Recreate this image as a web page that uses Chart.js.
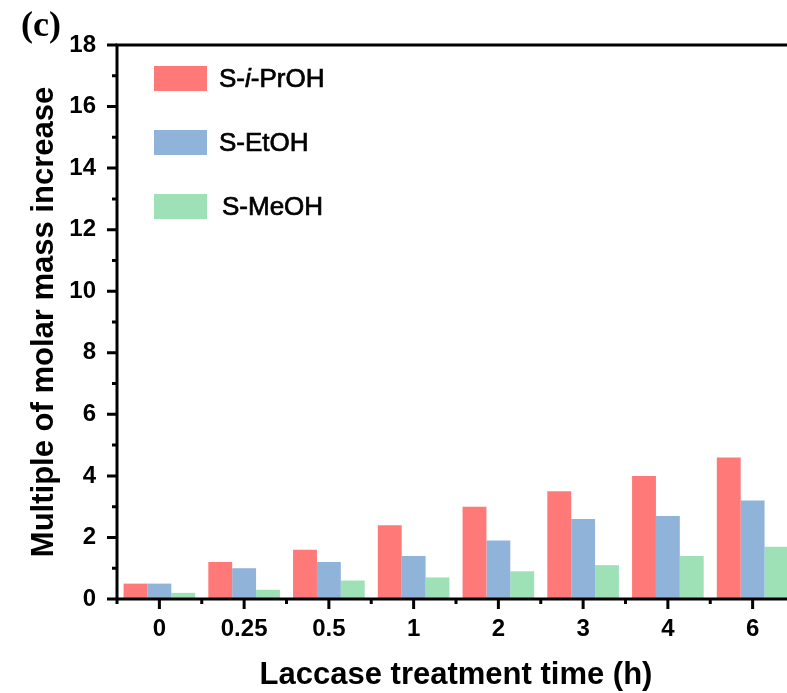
<!DOCTYPE html>
<html>
<head>
<meta charset="utf-8">
<script src="https://cdn.jsdelivr.net/npm/chart.js@4/dist/chart.umd.min.js"></script>
<style>
  html, body { margin: 0; padding: 0; background: #fff; overflow: hidden; }
  #wrap { position: relative; width: 795px; height: 693px; }
  canvas { display: block; }
</style>
</head>
<body>
<div id="wrap"><canvas id="c" width="795" height="693"></canvas></div>
<script>
// ---- data ----
const categories = ['0', '0.25', '0.5', '1', '2', '3', '4', '6'];
const seriesLabels = ['S-i-PrOH', 'S-EtOH', 'S-MeOH'];
const sIPrOH = [0.5, 1.2, 1.6, 2.4, 3.0, 3.5, 4.0, 4.6];
const sEtOH  = [0.5, 1.0, 1.2, 1.4, 1.9, 2.6, 2.7, 3.2];
const sMeOH  = [0.2, 0.3, 0.6, 0.7, 0.9, 1.1, 1.4, 1.7];
const yTickValues = [0, 2, 4, 6, 8, 10, 12, 14, 16, 18];
const xTitle = 'Laccase treatment time (h)';
const yTitle = 'Multiple of molar mass increase';
const panelLabel = '(c)';

const colors = ['rgb(255,121,121)', 'rgb(143,179,217)', 'rgb(158,225,183)'];
const SANS = '"Liberation Sans", Arial, sans-serif';

// axes, ticks, legend and panel label
const decor = {
  id: 'decor',
  afterDraw(chart) {
    const ctx = chart.ctx;
    const a = chart.chartArea;
    const xs = chart.scales.x, ys = chart.scales.y;
    ctx.save();
    ctx.strokeStyle = '#000';
    ctx.lineWidth = 3;
    ctx.lineCap = 'butt';
    // frame lines: left, bottom, top, right
    ctx.beginPath();
    ctx.moveTo(a.left, a.top - 1.5); ctx.lineTo(a.left, a.bottom + 5);
    ctx.moveTo(a.left - 1.5, a.bottom); ctx.lineTo(a.right, a.bottom);
    ctx.moveTo(a.left - 1.5, a.top); ctx.lineTo(a.right, a.top);
    ctx.moveTo(a.right, a.top); ctx.lineTo(a.right, a.bottom);
    ctx.stroke();
    // y ticks (major every 2, minor in between)
    ctx.beginPath();
    for (let v = ys.min; v <= ys.max; v += 1) {
      const y = ys.getPixelForValue(v);
      const len = (v % 2 === 0) ? 10 : 5;
      ctx.moveTo(a.left, y); ctx.lineTo(a.left - len, y);
    }
    // x ticks: major at categories, minor at boundaries
    for (let i = 0; i < categories.length; i++) {
      const x = xs.getPixelForValue(i);
      ctx.moveTo(x, a.bottom); ctx.lineTo(x, a.bottom + 10);
      if (i < categories.length - 1) {
        const xb = (x + xs.getPixelForValue(i + 1)) / 2;
        ctx.moveTo(xb, a.bottom); ctx.lineTo(xb, a.bottom + 5);
      }
    }
    ctx.stroke();

    // legend
    const lg = chart.options.plugins.decor;
    ctx.textBaseline = 'middle';
    ctx.textAlign = 'left';
    chart.data.datasets.forEach((ds, k) => {
      const cy = lg.y0 + k * lg.dy;
      ctx.fillStyle = ds.backgroundColor;
      ctx.fillRect(lg.boxX, cy - lg.boxH / 2, lg.boxW, lg.boxH);
      ctx.fillStyle = '#000';
      ctx.strokeStyle = '#000';
      ctx.lineWidth = 0.7;
      let x = lg.textX[k];
      const label = ds.label;
      // italic "i" in S-i-PrOH
      const parts = label.startsWith('S-i-')
        ? [['S-', false], ['i', true], ['-PrOH', false]]
        : [[label, false]];
      parts.forEach(([t, it]) => {
        ctx.font = (it ? 'italic ' : '') + lg.fontSize + 'px ' + SANS;
        ctx.fillText(t, x, cy + 1);
        ctx.strokeText(t, x, cy + 1);
        x += ctx.measureText(t).width;
      });
    });

    // panel label
    ctx.font = 'bold 36px "Liberation Serif", "DejaVu Serif", serif';
    ctx.fillStyle = '#000';
    ctx.textBaseline = 'alphabetic';
    ctx.fillText(panelLabel, 21, 36);
    ctx.restore();
  }
};

new Chart(document.getElementById('c'), {
  type: 'bar',
  data: {
    labels: categories,
    datasets: [
      { label: seriesLabels[0], data: sIPrOH, backgroundColor: colors[0] },
      { label: seriesLabels[1], data: sEtOH,  backgroundColor: colors[1] },
      { label: seriesLabels[2], data: sMeOH,  backgroundColor: colors[2] }
    ]
  },
  options: {
    responsive: false,
    animation: false,
    devicePixelRatio: 1,
    layout: { padding: { top: 45, left: 0, right: 0, bottom: 0 } },
    datasets: { bar: { barPercentage: 1.0, categoryPercentage: 0.845, borderWidth: 0 } },
    plugins: {
      legend: { display: false },
      tooltip: { enabled: false },
      decor: { boxX: 154, boxW: 53, boxH: 25, y0: 78.5, dy: 64, textX: [219, 219, 222], fontSize: 26 }
    },
    scales: {
      x: {
        type: 'category',
        offset: true,
        grid: { display: false, drawTicks: false, tickLength: 0 },
        border: { display: false },
        ticks: {
          padding: 16,
          color: '#000',
          font: { family: SANS, size: 24, weight: 'bold' },
          maxRotation: 0, autoSkip: false
        },
        title: {
          display: true, text: xTitle, color: '#000',
          font: { family: SANS, size: 31, weight: 'bold', lineHeight: 1.1 },
          padding: { top: 0, bottom: 0 }
        },
        afterFit(scale) { scale.height = 94; }
      },
      y: {
        min: 0, max: 18,
        grid: { display: false, drawTicks: false, tickLength: 0 },
        border: { display: false },
        afterBuildTicks(scale) { scale.ticks = yTickValues.map(v => ({ value: v })); },
        ticks: {
          padding: 21,
          color: '#000',
          font: { family: SANS, size: 24, weight: 'bold' }
        },
        title: {
          display: true, text: yTitle, color: '#000',
          font: { family: SANS, size: 31, weight: 'bold', lineHeight: 1.1 },
          padding: { top: 27, bottom: 0 }
        },
        afterFit(scale) { scale.width = 117; }
      }
    }
  },
  plugins: [decor]
});
</script>
</body>
</html>
